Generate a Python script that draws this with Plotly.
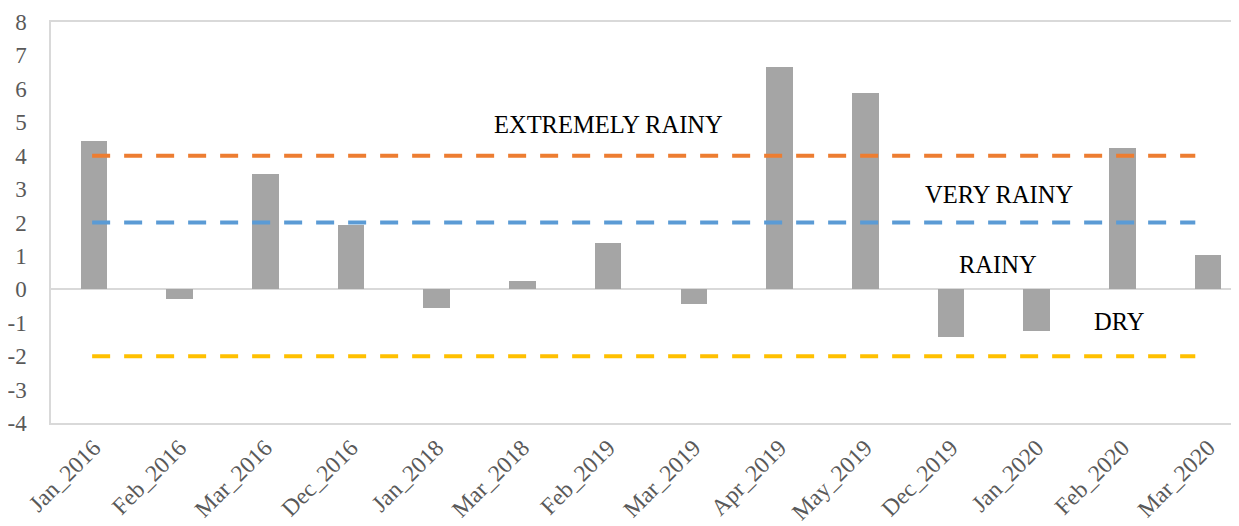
import plotly.graph_objects as go

categories = ["Jan_2016", "Feb_2016", "Mar_2016", "Dec_2016", "Jan_2018", "Mar_2018",
              "Feb_2019", "Mar_2019", "Apr_2019", "May_2019", "Dec_2019", "Jan_2020",
              "Feb_2020", "Mar_2020"]
values = [4.43, -0.30, 3.46, 1.94, -0.55, 0.25, 1.40, -0.43, 6.66, 5.89, -1.44, -1.26, 4.22, 1.02]
extremely_rainy = [4] * len(categories)
very_rainy = [2] * len(categories)
dry = [-2] * len(categories)
y_ticks = list(range(-4, 9))
y_tick_text = [str(v) for v in y_ticks]

font_family = "Liberation Serif, Times New Roman, serif"
x_idx = list(range(len(categories)))

fig = go.Figure()
fig.add_trace(go.Bar(x=x_idx, y=values, marker=dict(color="#A5A5A5", line=dict(width=0)),
                     width=0.31, showlegend=False))
for vals, col in [(extremely_rainy, "#ED7D31"), (very_rainy, "#5B9BD5"), (dry, "#FFC000")]:
    fig.add_trace(go.Scatter(x=[x_idx[0] - 0.02, x_idx[-1] - 0.15], y=[vals[0], vals[-1]], mode="lines",
                             line=dict(color=col, width=4, dash="18px,14px"), showlegend=False))

annots = [("EXTREMELY RAINY", 6.0, 4.94), ("VERY RAINY", 10.56, 2.84),
          ("RAINY", 10.55, 0.75), ("DRY", 11.96, -0.96)]
for t, x, y in annots:
    fig.add_annotation(x=x, y=y, text=t, showarrow=False,
                       font=dict(family=font_family, size=24.5, color="#000000"))

# page body has an 8px default margin, so the figure is offset by 8px
fig.update_layout(
    width=1231, height=518,
    margin=dict(l=43, r=0, t=14, b=103),
    plot_bgcolor="white", paper_bgcolor="white",
    font=dict(family=font_family, size=24, color="#595959"),
    bargap=0,
)
fig.update_xaxes(range=[-0.5, 13.36], tickmode="array", tickvals=x_idx, ticktext=categories,
                 tickangle=-45, showgrid=False, zeroline=False, showline=True, linecolor="#D9D9D9",
                 linewidth=1.5, mirror=True, ticks="", tickfont=dict(size=23.5), automargin=False)
fig.update_yaxes(range=[-4, 8], tickmode="array", tickvals=y_ticks, ticktext=y_tick_text,
                 showgrid=False, zeroline=True, zerolinecolor="#D9D9D9", zerolinewidth=1.5,
                 showline=True, linecolor="#D9D9D9", linewidth=1.5, mirror=True, ticks="",
                 ticklabelstandoff=18, tickfont=dict(size=23), automargin=False)

fig.write_html("out.html")
